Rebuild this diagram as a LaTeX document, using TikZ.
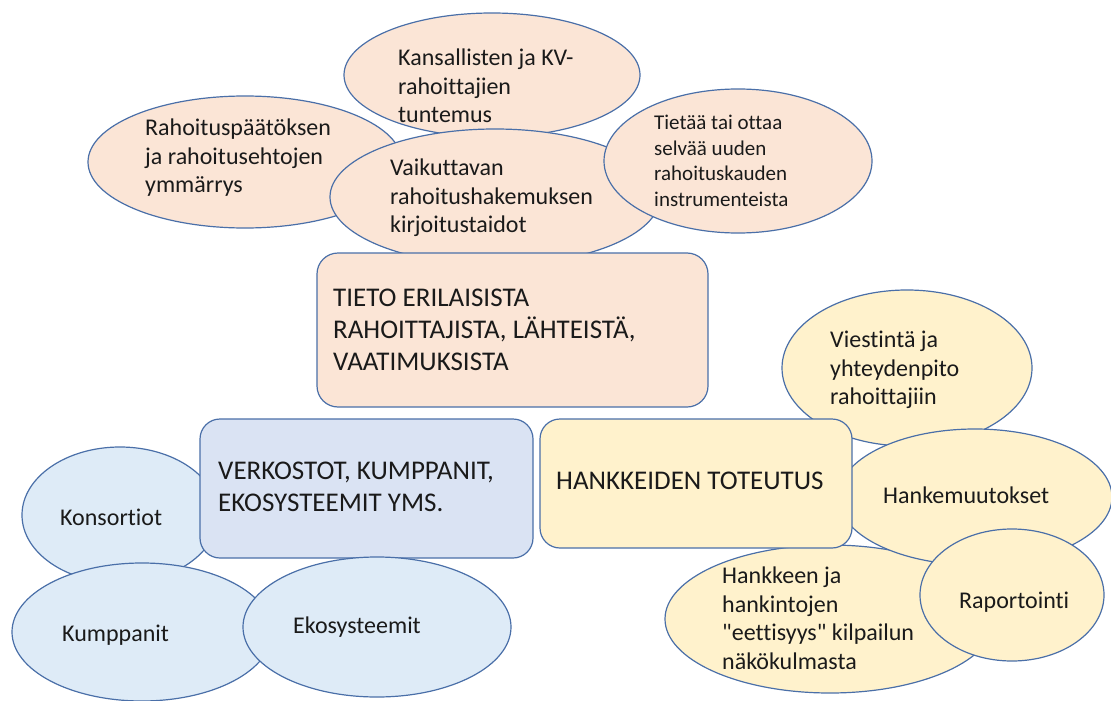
\documentclass[tikz,border=0pt]{standalone}
\usepackage{fontspec}
\setmainfont{Carlito}[Ligatures={TeXOff,NoCommon}]
\usetikzlibrary{shapes.geometric}
\definecolor{edge}{HTML}{4A6FA8}
\definecolor{peach}{HTML}{FBE5D6}
\definecolor{cream}{HTML}{FFF2CC}
\definecolor{skyfill}{HTML}{DEEBF7}
\definecolor{slatefill}{HTML}{DAE3F3}
\definecolor{ink}{HTML}{1A1A1A}
\tikzset{
  blob/.style={ellipse, draw=edge, line width=1.2pt, inner sep=0pt},
  card/.style={rectangle, draw=edge, line width=1.2pt, rounded corners=21pt, inner sep=0pt},
  small/.style={anchor=west, align=left, text=ink, inner sep=0pt, font=\fontsize{24}{28.5}\selectfont},
  tiny/.style={anchor=west, align=left, text=ink, inner sep=0pt, font=\fontsize{21}{25.5}\selectfont},
  big/.style={anchor=west, align=left, text=ink, inner sep=0pt, font=\fontsize{27}{32}\selectfont},
}
\begin{document}
\begin{tikzpicture}[x=1pt,y=-1pt]
\useasboundingbox (0,0) rectangle (1111,701);

% funding cluster
\node[blob, fill=peach, minimum width=296pt, minimum height=124pt] (kv) at (492,75) {};
\node[small] (kvt) at (398,86) {Kansallisten ja KV-\\rahoittajien\\tuntemus};
\node[blob, fill=peach, minimum width=314pt, minimum height=132pt] (paatos) at (245,162) {};
\node[small] (paatost) at (145,158) {Rahoituspäätöksen\\ja rahoitusehtojen\\ymmärrys};
\node[blob, fill=peach, minimum width=330pt, minimum height=136pt] (haku) at (495,197) {};
\node[small] (hakut) at (390,198) {Vaikuttavan\\rahoitushakemuksen\\kirjoitustaidot};
\node[blob, fill=peach, minimum width=268pt, minimum height=144pt] (instr) at (738,161) {};
\node[tiny] (instrt) at (654,161) {Tietää tai ottaa\\selvää uuden\\rahoituskauden\\instrumenteista};
\node[card, fill=peach, minimum width=391pt, minimum height=154pt] (tieto) at (512.5,330) {};
\node[big] (tietot) at (333,330) {TIETO ERILAISISTA\\RAHOITTAJISTA, LÄHTEISTÄ,\\VAATIMUKSISTA};

% implementation cluster
\node[blob, fill=cream, minimum width=250pt, minimum height=156pt] (viesti) at (907,368) {};
\node[small] (viestit) at (830,370) {Viestintä ja\\yhteydenpito\\rahoittajiin};
\node[blob, fill=cream, minimum width=330pt, minimum height=148pt] (etiikka) at (830,619) {};
\node[small] (etiikkat) at (722,618) {Hankkeen ja\\hankintojen\\"eettisyys" kilpailun\\näkökulmasta};
\node[blob, fill=cream, minimum width=274pt, minimum height=136pt] (muutos) at (975,497) {};
\node[small] (muutost) at (883,495) {Hankemuutokset};
\node[blob, fill=cream, minimum width=184pt, minimum height=132pt] (raportti) at (1012,595) {};
\node[small] (raporttit) at (959,602) {Raportointi};
\node[card, fill=cream, minimum width=312pt, minimum height=129pt, rounded corners=20pt] (toteutus) at (696,483.5) {};
\node[big] (toteutust) at (556,481) {HANKKEIDEN TOTEUTUS};

% network cluster
\node[blob, fill=skyfill, minimum width=196pt, minimum height=136pt] (konso) at (120,515) {};
\node[small] (konsot) at (60,517) {Konsortiot};
\node[card, fill=slatefill, minimum width=333pt, minimum height=139pt, rounded corners=20pt] (verkko) at (366.5,488.5) {};
\node[big] (verkkot) at (218,487) {VERKOSTOT, KUMPPANIT,\\EKOSYSTEEMIT YMS.};
\node[blob, fill=skyfill, minimum width=260pt, minimum height=138pt] (kumpp) at (142,632) {};
\node[small] (kumppt) at (62,635) {Kumppanit};
\node[blob, fill=skyfill, minimum width=268pt, minimum height=140pt] (eko) at (377,627) {};
\node[small] (ekot) at (293,627) {Ekosysteemit};
\end{tikzpicture}
\end{document}
